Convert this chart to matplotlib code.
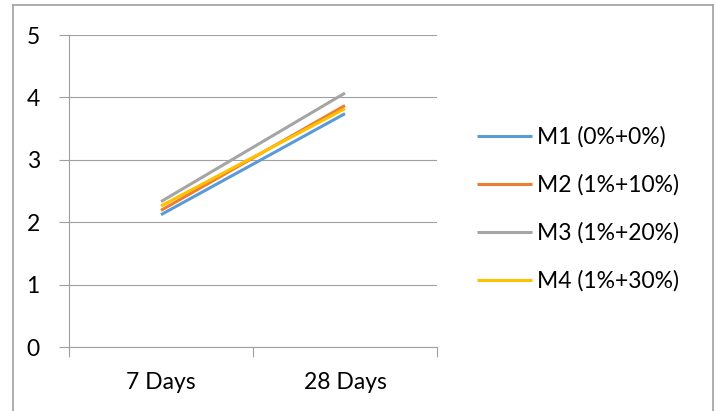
import matplotlib.pyplot as plt
from matplotlib.lines import Line2D

# compressive strength style chart: 7 vs 28 days
categories = ["7 Days", "28 Days"]
series_names = ["M1 (0%+0%)", "M2 (1%+10%)", "M3 (1%+20%)", "M4 (1%+30%)"]
m1 = [2.12, 3.74]
m2 = [2.19, 3.87]
m3 = [2.33, 4.07]
m4 = [2.26, 3.82]
colors = ["#5B9BD5", "#ED7D31", "#A5A5A5", "#FFC000"]


def main():
    plt.rcParams['font.family'] = ['Lato', 'DejaVu Sans']
    W, H = 717, 411
    fig = plt.figure(figsize=(W / 100, H / 100), dpi=100)
    ax = fig.add_axes([69 / W, 1 - 347 / H, (437 - 69) / W, (347 - 35) / H])

    x = [0.5, 1.5]
    for vals, name, c in zip([m1, m2, m3, m4], series_names, colors):
        ax.plot(x, vals, color=c, lw=2.2, label=name, solid_capstyle='butt')

    grid_c = "#A0A0A0"
    fs = 16.5
    ax.set_xlim(0, 2)
    ax.set_ylim(0, 5)
    ax.set_yticks(range(6))
    ax.yaxis.grid(True, color=grid_c, lw=0.8)
    ax.set_axisbelow(True)
    ax.set_xticks([0, 1, 2])
    ax.set_xticklabels([])
    ax.set_xticks(x, minor=True)
    ax.set_xticklabels(categories, minor=True)
    ax.tick_params(axis='x', which='major', length=7, color=grid_c, width=0.8, direction='out')
    ax.tick_params(axis='x', which='minor', length=0, pad=18, labelsize=fs)
    ax.tick_params(axis='y', length=7, color=grid_c, width=0.8, pad=14, labelsize=fs)
    for s in ["top", "right"]:
        ax.spines[s].set_visible(False)
    for s in ["left", "bottom"]:
        ax.spines[s].set_color(grid_c)
        ax.spines[s].set_linewidth(0.8)

    fig.legend(loc='center left', bbox_to_anchor=(477 / W, 1 - 209 / H),
               frameon=False, fontsize=fs, handlelength=2.4, handletextpad=0.2,
               labelspacing=1.15, borderpad=0, borderaxespad=0)

    # chart border
    bc = "#A0A0A0"
    fig.add_artist(Line2D([13 / W, 13 / W], [0, 1 - 5 / H], color=bc, lw=1.2))
    fig.add_artist(Line2D([13 / W, 713 / W], [1 - 5 / H, 1 - 5 / H], color=bc, lw=1.2))
    fig.add_artist(Line2D([713 / W, 713 / W], [0, 1 - 5 / H], color=bc, lw=1.2))

    fig.savefig("out.png", dpi=100)


if __name__ == "__main__":
    main()
